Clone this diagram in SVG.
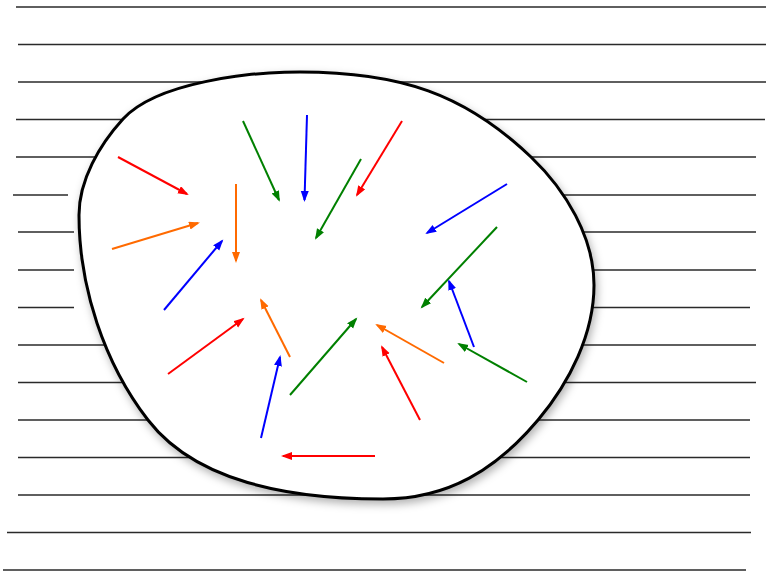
<svg xmlns="http://www.w3.org/2000/svg" width="766" height="574" viewBox="0 0 766 574">
  <style>
    .rule { stroke: #2a2a2a; stroke-width: 1.4; fill: none; }
    .arrow { stroke-width: 2; fill: none; }
    .red { stroke: #ff0000; }
    .orange { stroke: #ff6a00; }
    .green { stroke: #008000; }
    .blue { stroke: #0000ff; }
  </style>
  <defs>
    <filter id="shadow" x="-10%" y="-10%" width="120%" height="125%">
      <feDropShadow dx="2" dy="4" stdDeviation="4" flood-color="#000" flood-opacity="0.3"/>
    </filter>
    <marker id="mRed" markerUnits="userSpaceOnUse" markerWidth="12" markerHeight="10" refX="9" refY="4" orient="auto">
      <path d="M0,0 L11,4 L0,8 z" fill="#ff0000"/>
    </marker>
    <marker id="mOrange" markerUnits="userSpaceOnUse" markerWidth="12" markerHeight="10" refX="9" refY="4" orient="auto">
      <path d="M0,0 L11,4 L0,8 z" fill="#ff6a00"/>
    </marker>
    <marker id="mGreen" markerUnits="userSpaceOnUse" markerWidth="12" markerHeight="10" refX="9" refY="4" orient="auto">
      <path d="M0,0 L11,4 L0,8 z" fill="#008000"/>
    </marker>
    <marker id="mBlue" markerUnits="userSpaceOnUse" markerWidth="12" markerHeight="10" refX="9" refY="4" orient="auto">
      <path d="M0,0 L11,4 L0,8 z" fill="#0000ff"/>
    </marker>
  </defs>
  <rect width="766" height="574" fill="#ffffff"/>

  <g id="rules">
    <line class="rule" x1="16" y1="7" x2="766" y2="7"/>
    <line class="rule" x1="18" y1="44.5" x2="766" y2="44.5"/>
    <line class="rule" x1="18" y1="82" x2="766" y2="82"/>
    <line class="rule" x1="16" y1="119.5" x2="765" y2="119.5"/>
    <line class="rule" x1="16" y1="157" x2="756" y2="157"/>
    <line class="rule" x1="13" y1="195" x2="68" y2="195"/>
    <line class="rule" x1="500" y1="195" x2="756" y2="195"/>
    <line class="rule" x1="18" y1="232" x2="74" y2="232"/>
    <line class="rule" x1="500" y1="232" x2="756" y2="232"/>
    <line class="rule" x1="18" y1="270" x2="74" y2="270"/>
    <line class="rule" x1="500" y1="270" x2="756" y2="270"/>
    <line class="rule" x1="18" y1="307.5" x2="74" y2="307.5"/>
    <line class="rule" x1="500" y1="307.5" x2="750" y2="307.5"/>
    <line class="rule" x1="18" y1="345" x2="756" y2="345"/>
    <line class="rule" x1="18" y1="382.5" x2="756" y2="382.5"/>
    <line class="rule" x1="18" y1="420" x2="750" y2="420"/>
    <line class="rule" x1="18" y1="457.5" x2="750" y2="457.5"/>
    <line class="rule" x1="18" y1="495" x2="750" y2="495"/>
    <line class="rule" x1="7" y1="532.5" x2="751" y2="532.5"/>
    <line class="rule" x1="3" y1="570" x2="746" y2="570"/>
  </g>

  <g id="blob">
    <path d="M300,72 C400,72 465,94 531,157 C565.6,190.1 594,237 594,285 C594,334 569.5,382.5 538,420 C496.2,469.7 448,499 383,499 C300,499 198.6,485.6 148,420 C104.1,363.1 79,287 79,215 C79,180 99.4,144.9 123,119 C156.75,82 250,72 300,72 Z"
          fill="#ffffff" stroke="#000000" stroke-width="3" filter="url(#shadow)"/>
  </g>

  <g id="connectors">
    <line class="arrow red" x1="118" y1="157" x2="187" y2="194" marker-end="url(#mRed)"/>
    <line class="arrow orange" x1="112" y1="249" x2="198" y2="223" marker-end="url(#mOrange)"/>
    <line class="arrow orange" x1="236" y1="184" x2="236" y2="261" marker-end="url(#mOrange)"/>
    <line class="arrow blue" x1="164" y1="310" x2="222" y2="241" marker-end="url(#mBlue)"/>
    <line class="arrow green" x1="243" y1="121" x2="279" y2="200" marker-end="url(#mGreen)"/>
    <line class="arrow blue" x1="307" y1="115" x2="304.5" y2="200" marker-end="url(#mBlue)"/>
    <line class="arrow red" x1="402" y1="121" x2="357" y2="195" marker-end="url(#mRed)"/>
    <line class="arrow green" x1="361" y1="159" x2="316" y2="238" marker-end="url(#mGreen)"/>
    <line class="arrow blue" x1="507" y1="184" x2="427" y2="233" marker-end="url(#mBlue)"/>
    <line class="arrow green" x1="497" y1="227" x2="422" y2="307" marker-end="url(#mGreen)"/>
    <line class="arrow blue" x1="474" y1="347" x2="449" y2="281" marker-end="url(#mBlue)"/>
    <line class="arrow green" x1="527" y1="382" x2="459" y2="344" marker-end="url(#mGreen)"/>
    <line class="arrow orange" x1="444" y1="363" x2="377" y2="325" marker-end="url(#mOrange)"/>
    <line class="arrow red" x1="420" y1="420" x2="382" y2="347" marker-end="url(#mRed)"/>
    <line class="arrow green" x1="290" y1="395" x2="356" y2="319" marker-end="url(#mGreen)"/>
    <line class="arrow orange" x1="290" y1="357" x2="261" y2="300" marker-end="url(#mOrange)"/>
    <line class="arrow red" x1="168" y1="374" x2="243" y2="319" marker-end="url(#mRed)"/>
    <line class="arrow blue" x1="261" y1="438" x2="280" y2="357" marker-end="url(#mBlue)"/>
    <line class="arrow red" x1="375" y1="456" x2="283" y2="456" marker-end="url(#mRed)"/>
  </g>
</svg>
